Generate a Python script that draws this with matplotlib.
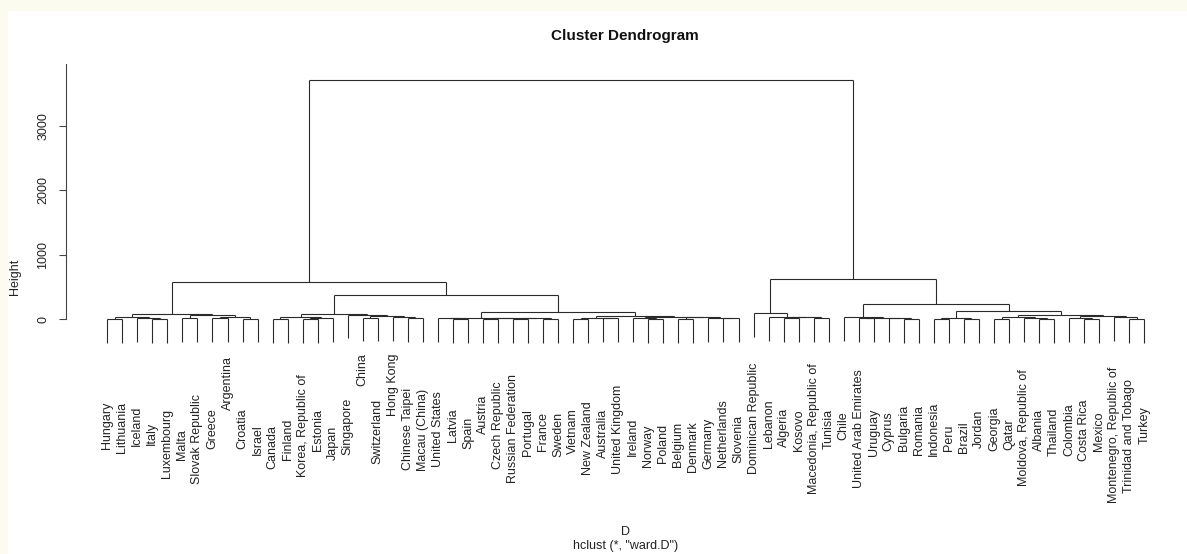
import matplotlib as mpl
mpl.use('Agg')
import matplotlib.pyplot as plt
from matplotlib.transforms import offset_copy

plt.rcParams['font.family'] = ['Liberation Sans', 'DejaVu Sans']

# leaf labels, left to right as in the dendrogram
labels = ["Hungary", "Lithuania", "Iceland", "Italy", "Luxembourg", "Malta",
          "Slovak Republic", "Greece", "Argentina", "Croatia", "Israel", "Canada",
          "Finland", "Korea, Republic of", "Estonia", "Japan", "Singapore", "China",
          "Switzerland", "Hong Kong", "Chinese Taipei", "Macau (China)",
          "United States", "Latvia", "Spain", "Austria", "Czech Republic",
          "Russian Federation", "Portugal", "France", "Sweden", "Vietnam",
          "New Zealand", "Australia", "United Kingdom", "Ireland", "Norway",
          "Poland", "Belgium", "Denmark", "Germany", "Netherlands", "Slovenia",
          "Dominican Republic", "Lebanon", "Algeria", "Kosovo",
          "Macedonia, Republic of", "Tunisia", "Chile", "United Arab Emirates",
          "Uruguay", "Cyprus", "Bulgaria", "Romania", "Indonesia", "Peru", "Brazil",
          "Jordan", "Georgia", "Qatar", "Moldova, Republic of", "Albania",
          "Thailand", "Colombia", "Costa Rica", "Mexico", "Montenegro, Republic of",
          "Trinidad and Tobago", "Turkey"]

# merges: (height, left, right); plain ints are leaf numbers (1-based)
grp_a1 = (78, (28, (9, 1, 2), (18, 3, (6, 4, 5))),
          (64, (14, 6, 7), (40, (20, 8, 9), (11, 10, 11))))
grp_a2l = (80, (32, (10, 12, 13), (21, (7, 14, 15), 16)),
           (73, 17, (50, (26, 18, 19), (38, 20, (22, 21, 22)))))
grp_a2r = (115, (26, (12, 23, (5, 24, 25)),
                 (22, (9, 26, 27), (16, (6, 28, 29), (7, 30, 31)))),
           (56, (24, (8, 32, 33), (13, 34, 35)),
            (40, (19, 36, (8, 37, 38)), (30, (10, 39, 40), (21, 41, (12, 42, 43))))))
grp_b1 = (98, 44, (40, 45, (30, (18, 46, 47), (12, 48, 49))))
grp_b2l = (40, 50, (25, (12, 51, 52), (15, 53, (8, 54, 55))))
grp_b2r = (134, (20, (6, 56, 57), (6, 58, 59)),
           (67, (35, (10, 60, 61), (20, 62, (8, 63, 64))),
            (45, (25, 65, (10, 66, 67)), (30, 68, (10, 69, 70)))))
grp_a = (575, grp_a1, (377, grp_a2l, grp_a2r))
grp_b = (626, grp_b1, (233, grp_b2l, grp_b2r))
root = (3716, grp_a, grp_b)

y_ticks = [0, 1000, 2000, 3000]

# how far (px) each label sits below its leaf end
label_gap = [59, 59, 64, 79, 66, 87, 52, 66, 14, 66, 82, 82, 76, 32, 66, 84, 59,
             12, 57, 13, 46, 47, 49, 66, 74, 52, 39, 31, 66, 69, 69, 66, 59, 66,
             42, 76, 82, 81, 79, 79, 76, 57, 72, 26, 59, 66, 67, 21, 66, 71, 27,
             66, 69, 62, 62, 59, 82, 79, 67, 64, 76, 27, 66, 65, 62, 57, 69, 26,
             37, 64]


def all_heights(node):
    if isinstance(node, int):
        return []
    return [node[0]] + all_heights(node[1]) + all_heights(node[2])


hts = all_heights(root)
hang = 0.1 * (max(hts) - min(hts))

segs = []
leaf_end = {}


def walk(node):
    if isinstance(node, int):
        return float(node), None
    h, left, right = node
    xl, hl = walk(left)
    xr, hr = walk(right)
    for x, hc, child in ((xl, hl, left), (xr, hr, right)):
        if hc is None:
            hc = h - hang
            leaf_end[child] = hc
        segs.append(((x, x), (h, hc)))
    segs.append(((xl, xr), (h, h)))
    return (xl + xr) / 2, h


walk(root)

W, H = 1187, 554
fig = plt.figure(figsize=(W / 100, H / 100), dpi=100)
fig.patch.set_facecolor('white')
fig.add_artist(plt.Rectangle((0, 1 - 10 / H), 1, 10 / H, transform=fig.transFigure,
                             color='#fbfbf0', zorder=0))
fig.add_artist(plt.Rectangle((0, 0), 7 / W, 1, transform=fig.transFigure,
                             color='#fbfbf0', zorder=0))

ax = fig.add_axes([65.8 / W, 1 - 357.9 / H, 1120 / W, (357.9 - 64) / H])
ax.set_facecolor('none')
n = len(labels)
ax.set_xlim(1 - 0.04 * (n - 1), n + 0.04 * (n - 1))
ax.set_ylim(-600, 3964)

for xs, ys in segs:
    ax.plot(xs, ys, color='#2a2a2a', lw=0.8, solid_capstyle='butt')

for i, lab in enumerate(labels):
    tr = offset_copy(ax.transData, fig=fig, y=-label_gap[i], units='dots')
    ax.text(i + 1, leaf_end[i + 1], lab, rotation=90, ha='center', va='top',
            fontsize=9, color='#222222', transform=tr, clip_on=False)

for s in ('top', 'right', 'bottom'):
    ax.spines[s].set_visible(False)
ax.spines['left'].set_bounds(0, 3964)
ax.spines['left'].set_color('#444444')
ax.spines['left'].set_linewidth(0.8)
ax.set_xticks([])
ax.set_yticks(y_ticks)
ax.tick_params(axis='y', length=5, width=0.8, color='#444444', labelsize=9,
               labelcolor='#222222', pad=7)
for t in ax.get_yticklabels():
    t.set_rotation(90)
    t.set_va('center')

fig.text(625 / W, 1 - 36 / H, 'Cluster Dendrogram', ha='center', va='center',
         fontsize=11, fontweight='bold', color='#111111')
fig.text(15 / W, 1 - 277 / H, 'Height', rotation=90, ha='center', va='center',
         fontsize=9, color='#222222')
fig.text(626 / W, 1 - 532 / H, 'D', ha='center', va='center', fontsize=9,
         color='#222222')
fig.text(626 / W, 1 - 546 / H, 'hclust (*, "ward.D")', ha='center', va='center',
         fontsize=9, color='#222222')

fig.savefig('out.png', dpi=100)
